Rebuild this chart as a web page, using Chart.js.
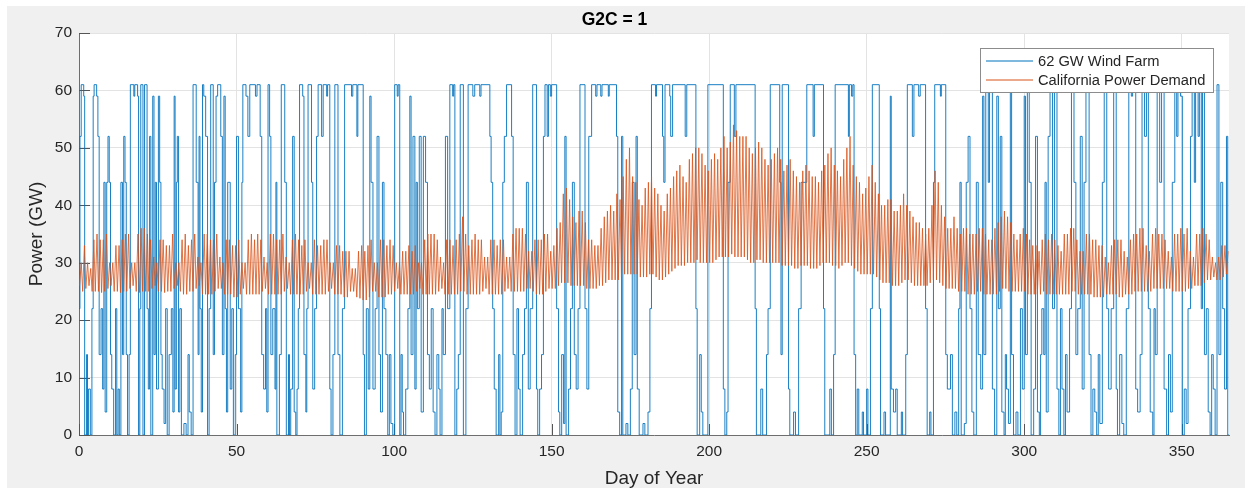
<!DOCTYPE html>
<html>
<head>
<meta charset="utf-8">
<title>G2C = 1</title>
<script src="https://cdn.jsdelivr.net/npm/chart.js@4.4.1/dist/chart.umd.min.js"></script>
<style>
  html, body { margin: 0; padding: 0; background: #fff; }
  #wrap { width: 1252px; height: 488px; }
</style>
</head>
<body>
<div id="wrap"><canvas id="powerChart" width="1252" height="488"></canvas></div>
<script>
// ---- data ----
const chartTitle = 'G2C = 1';
const seriesNames = ['62 GW Wind Farm', 'California Power Demand'];
const xTitle = 'Day of Year';
const yTitle = 'Power (GW)';
const xTicks = [0, 50, 100, 150, 200, 250, 300, 350];
const yTicks = [0, 10, 20, 30, 40, 50, 60, 70];

// wind farm output: [day the level starts, GW]
const windSteps = [
  [0,22],[0.3,52],[0.7,61],[1.5,59],[1.8,0],[2.4,14],[2.7,0],[3.0,8],[3.6,0],[4.1,22],
  [4.5,59],[4.8,61],[5.6,59],[6.0,52],[6.4,14],[7.0,22],[7.5,8],[7.9,44],[8.3,4],[8.8,44],
  [9.2,52],[9.6,44],[10.0,14],[10.4,8],[11.0,0],[11.6,22],[12.0,0],[12.4,8],[12.8,0],[13.3,44],
  [13.8,14],[14.2,52],[14.6,44],[15.0,14],[15.4,0],[15.9,14],[16.3,61],[17.4,59],[17.7,61],[18.6,59],
  [18.9,0],[19.3,22],[19.6,61],[20.3,0],[20.8,61],[21.6,22],[22.0,8],[22.4,52],[22.8,0],[23.4,59],
  [23.8,14],[24.2,44],[24.6,8],[25.2,59],[25.6,44],[26.0,14],[26.4,8],[27.0,2],[27.5,22],[28.0,0],
  [28.6,14],[29.3,22],[29.8,4],[30.2,59],[30.5,8],[30.9,44],[31.2,52],[31.6,4],[32.0,22],[32.5,0],
  [33.3,2],[34.0,0],[34.6,14],[35.0,4],[35.6,0],[36.2,61],[37.2,44],[37.8,14],[38.1,52],[38.4,22],
  [38.8,4],[39.2,61],[39.6,59],[40.2,52],[40.8,0],[41.3,22],[41.8,61],[42.6,14],[43.0,44],[43.5,59],
  [44.0,61],[45.0,52],[45.5,14],[46.0,59],[46.4,22],[46.8,4],[47.2,44],[48.0,8],[48.5,22],[49.0,0],
  [49.6,14],[50.0,52],[50.6,22],[51.3,4],[51.7,44],[52.0,61],[53.0,59],[53.6,52],[54.2,61],[56.0,59],
  [56.5,61],[57.5,52],[58.0,14],[58.6,8],[59.2,22],[59.6,4],[60.0,61],[60.5,52],[60.9,14],[61.5,22],
  [62.2,8],[62.5,44],[62.8,0],[63.6,14],[64.2,61],[65.3,44],[65.8,0],[66.5,14],[66.8,0],[67.2,8],
  [67.8,52],[68.3,4],[68.8,0],[69.2,8],[69.6,22],[70.0,61],[71.0,59],[71.4,14],[72.0,4],[72.3,22],
  [72.7,61],[73.8,44],[74.2,8],[74.8,22],[75.4,52],[75.9,61],[77.0,52],[77.5,61],[78.6,59],[78.9,61],
  [79.6,8],[80.0,0],[80.6,14],[81.2,61],[82.2,14],[82.8,0],[83.6,22],[84.3,61],[86.5,59],[86.9,61],
  [88.2,52],[88.5,61],[90.2,14],[90.6,0],[91.2,22],[91.8,8],[92.3,59],[92.7,44],[93.3,8],[94.0,22],
  [94.6,52],[95.2,14],[95.7,4],[96.3,44],[96.8,22],[97.4,14],[98.0,0],[98.5,14],[99.0,2],[99.6,0],
  [100.2,61],[101.0,59],[101.3,61],[101.8,0],[102.2,14],[102.6,4],[103.0,0],[103.7,8],[104.4,22],[105.0,59],
  [105.4,14],[106.0,52],[106.6,8],[107.0,44],[107.4,22],[108.0,52],[108.6,4],[109.3,52],[110.0,44],[110.6,14],
  [111.2,8],[111.8,22],[112.4,4],[113.0,0],[113.6,14],[114.2,8],[114.6,0],[115.2,22],[115.6,14],[116.3,52],
  [117.0,22],[117.7,61],[118.6,59],[118.9,61],[119.3,0],[119.9,8],[120.4,14],[121.0,61],[122.0,0],[122.8,22],
  [123.5,61],[125.0,59],[125.6,61],[127.2,59],[127.6,61],[130.4,52],[130.8,44],[131.3,22],[131.8,8],[132.4,0],
  [133.2,14],[133.6,0],[134.0,4],[134.5,44],[135.0,52],[135.7,61],[137.3,52],[137.8,14],[138.4,0],[139.0,22],
  [139.5,8],[140.0,0],[140.8,14],[141.4,22],[142.0,44],[142.6,8],[143.2,22],[144.0,61],[145.2,8],[145.6,0],
  [146.2,8],[146.8,14],[147.4,52],[147.9,61],[148.6,52],[149.0,61],[149.6,59],[150.0,61],[151.6,22],[152.2,4],
  [152.6,0],[153.2,14],[153.8,2],[154.2,52],[154.6,0],[155.4,8],[156.0,22],[156.6,44],[157.2,14],[157.8,8],
  [158.4,22],[159.0,61],[160.6,22],[161.2,8],[161.8,52],[162.7,61],[164.0,59],[164.4,61],[165.6,59],[166.0,61],
  [168.0,59],[168.3,61],[170.6,52],[171.0,4],[171.6,0],[172.2,52],[172.6,0],[173.6,2],[174.2,0],[175.0,8],
  [175.6,44],[176.2,14],[176.8,52],[177.2,8],[177.8,0],[179.0,2],[179.6,0],[180.6,4],[181.2,22],[181.7,61],
  [183.0,59],[183.3,61],[185.2,52],[185.6,44],[186.0,61],[187.5,59],[187.8,52],[188.4,61],[192.4,52],[192.9,61],
  [195.8,22],[196.2,0],[197.0,14],[197.5,4],[198.0,0],[199.6,61],[204.5,8],[205.0,0],[205.6,4],[206.0,44],
  [206.7,61],[208.0,52],[208.5,61],[214.6,22],[215.0,0],[216.4,8],[217.0,0],[218.2,14],[218.7,22],[219.4,61],
  [222.4,44],[222.8,14],[223.2,61],[225.2,8],[225.6,0],[226.8,4],[227.4,0],[228.4,22],[229.2,44],[231.0,61],
  [233.0,52],[233.4,61],[236.3,22],[236.7,0],[238.3,8],[238.8,0],[239.5,14],[240.0,61],[244.2,52],[244.5,61],
  [245.2,59],[245.6,61],[246.0,14],[246.5,0],[247.0,8],[247.5,0],[248.6,4],[249.0,0],[250.0,8],[250.4,0],
  [251.2,22],[251.8,61],[254.0,22],[254.4,0],[255.5,4],[256.0,0],[257.5,59],[257.8,8],[258.5,4],[259.2,8],
  [259.7,0],[261.0,4],[261.4,0],[262.4,14],[262.9,61],[264.5,52],[265.0,61],[266.5,59],[267.0,61],[268.7,22],
  [269.2,0],[270.0,4],[270.4,0],[271.2,44],[271.6,61],[273.4,59],[273.7,61],[275.1,14],[275.6,8],[276.6,14],
  [277.2,0],[278.0,4],[278.6,0],[279.2,22],[279.6,44],[280.0,0],[281.0,2],[281.6,44],[282.2,52],[282.8,22],
  [283.4,4],[284.0,0],[284.8,44],[285.4,14],[286.2,8],[286.8,59],[287.2,14],[287.8,61],[288.6,44],[289.0,61],
  [289.9,8],[290.6,0],[291.3,59],[291.8,22],[292.4,52],[292.9,4],[293.6,0],[294.0,14],[294.4,8],[295.0,2],
  [295.6,61],[296.0,14],[296.6,0],[297.4,4],[298.0,0],[298.8,22],[299.4,8],[300.0,59],[300.4,14],[301.0,61],
  [301.6,44],[302.2,0],[303.0,8],[303.6,52],[304.2,4],[304.8,0],[305.2,14],[305.6,22],[306.2,14],[306.6,44],
  [307.0,4],[307.6,52],[308.2,61],[309.0,22],[309.6,61],[310.4,8],[311.0,0],[311.5,22],[312.0,8],[312.6,0],
  [313.1,14],[313.6,4],[314.4,22],[315.0,61],[315.8,44],[316.4,14],[317.0,22],[317.8,52],[318.4,8],[319.0,44],
  [319.6,61],[320.6,14],[321.2,0],[321.8,8],[322.4,4],[323.0,0],[323.5,14],[324.0,2],[324.8,44],[325.4,61],
  [326.2,22],[326.8,8],[327.6,22],[328.4,61],[329.2,8],[329.6,0],[330.3,14],[331.0,2],[331.6,0],[332.4,22],
  [333.2,61],[334.0,59],[334.4,61],[335.4,8],[336.0,4],[336.8,14],[337.4,61],[338.2,52],[338.8,61],[339.4,22],
  [340.0,4],[340.8,0],[341.2,22],[341.6,14],[342.2,61],[343.0,44],[343.6,61],[344.4,8],[345.2,0],[345.8,14],
  [346.4,4],[347.0,44],[347.8,61],[348.4,52],[348.8,61],[349.6,59],[350.2,0],[350.8,8],[351.4,2],[352.0,22],
  [352.8,52],[353.3,61],[354.0,44],[354.4,61],[355.2,52],[355.6,61],[356.2,22],[356.6,61],[357.2,14],[357.8,22],
  [358.4,4],[359.0,0],[359.5,14],[360.0,8],[360.6,0],[361.2,61],[361.8,14],[362.4,44],[363.0,22],[363.6,8],
  [364.2,52],[364.6,0],[365.0,0]
];

// demand: daily evening peak and early-morning low, GW, days 0..364
const demandPeak = [
  30,33,30,29,34,35,34,34,35,30, 30,33,33,34,35,35,30,30,35,36,
  36,35,34,31,30,34,34,33,33,35, 30,30,34,35,33,34,35,31,30,35,
  35,34,34,35,31,30,34,34,33,33, 34,30,30,34,35,34,35,34,31,30,
  35,35,34,34,35,31,30,34,35,34, 33,34,30,30,34,33,33,34,34,30,
  30,33,33,32,32,32,29,29,32,33, 32,33,34,30,30,34,34,33,34,33,
  30,30,32,32,33,32,33,30,30,34, 35,35,35,34,31,30,34,34,33,34,
  35,38,35,33,34,35,34,34,31,31, 34,34,33,34,34,31,31,35,36,36,
  36,35,32,32,34,34,34,35,35,32, 33,36,37,42,43,41,38,37,39,39,
  37,34,34,33,33,36,38,39,40,39, 42,41,45,48,50,45,44,41,40,43,
  44,45,43,42,40,39,42,43,45,46, 47,45,44,48,49,50,50,49,47,46,
  48,49,48,50,52,50,51,54,53,52, 52,52,50,49,50,51,50,48,47,48,
  49,50,48,46,47,48,46,45,44,46, 47,46,45,45,44,46,47,49,50,47,
  46,45,48,50,52,47,45,44,42,43, 45,47,44,42,40,40,41,41,39,39,
  40,42,40,39,38,37,37,36,35,36, 40,46,44,40,38,36,36,38,36,35,
  36,36,35,35,35,36,36,35,34,34, 36,37,38,39,38,37,35,34,35,36,
  35,34,33,33,32,34,35,34,35,34, 33,32,35,35,36,36,34,32,32,35,
  35,34,34,33,33,31,30,33,34,34, 34,32,31,34,35,35,36,36,33,32,
  35,36,35,35,34,32,31,35,35,36, 35,36,32,31,35,35,36,35,34,31,
  30,31,33,33,32
];
const demandLow = [
  26,25,25.5,26,25,25,25,24.8,25,25.5, 26,25,25,24.8,25,25,25.5,26,25,24.8,
  25,25,25,25.5,26,25,25,24.8,25,25, 25.5,26,25,24.5,24.5,25,25,25.5,26,24.5,
  24.5,24.5,24.5,25,25.5,25.5,24.5,24.5,24.5,24, 24,24.5,25.5,24.5,24.5,24.5,24.5,24.5,25,25.5,
  24.5,24.5,24.5,24.5,24.5,25,25.5,24.5,24.5,24.5, 24.5,24.5,25,25.5,24.5,24.5,24.5,24.5,24.5,25,
  25.5,24.5,24.5,24.5,24,24,25,25,24,23.8, 23.5,23.5,24,25,25,24,24,24,24.5,24.5,
  25,25.5,24.5,24.5,24.5,24.5,24.5,25,25.5,24.5, 24.5,24.5,24.5,24.5,25,25.5,24.5,24.5,24.5,24.5,
  24.5,25,25,24.5,24.5,24.5,24.5,24.5,25,25.5, 24.5,24.5,24.5,24.5,24.5,25,25.5,25,25,25,
  25,25,25.5,25.5,25,24.5,24.5,24.5,25,25.5, 25.5,25.5,26,26.5,26.5,26.5,26,26,26,26,
  26,25.5,25.5,25.5,25.5,26,26,26.5,27,27, 27,27,27.5,28,28,28,28,28,27.5,27.5,
  27.5,28,28,27.5,27,27,27.5,28,28.5,29, 29.5,29.5,29.5,30,30,30,30.5,30,30,30,
  30,30,30.5,31,31,31,31,31.5,31,31, 31,31,30.5,30,30,30.5,30.5,30,30,30,
  30,30,30,29.5,29.5,29.5,29.5,29,29,29.5, 29.5,29.5,29,29,29,29.5,30,30,30,29.5,
  29.5,29,29.5,30,30,29.5,29,28.5,28,28, 28,28,28,27.5,27,26.5,26.5,26.5,26,26,
  26,26.5,27,27,26.5,26,26,26,26,26, 26.5,27,27,26.5,26,25.5,25.5,25.5,25.5,25,
  25,25,24.5,24.5,24.5,25,25,24.5,24.5,24.5, 24.5,24.5,25,25.5,25.5,25,25,25,25,25,
  25,24.5,24.5,24.5,24.5,24.5,25,24.5,24.5,24.5, 24.5,24.5,24.5,24.5,24.5,25,25,24.5,24.5,24.5,
  24.5,24.5,24,24,24,24,24.5,24.5,24.5,24.5, 24,24,24.5,24.5,24.5,25,25,25,25,25,
  25,25.5,25.5,25.5,25.5,25.5,25.5,25,25,25, 25,25,25.5,25.5,26,26,26,26.5,27,27,
  27.5,27,27,27.5,28
];

// ---- build datasets ----
const BLUE = '#0072BD';
const ORANGE = '#D95319';
const TEXT = '#262626';
const FONT = '"Liberation Sans", Arial, Helvetica, sans-serif';

const windPoints = windSteps.map(s => ({ x: s[0], y: s[1] }));
const demandPoints = [];
demandLow.forEach((low, d) => {
    demandPoints.push({ x: d + 0.17, y: low });
    demandPoints.push({ x: d + 0.72, y: demandPeak[d] });
});

// grey figure frame, inward ticks and the boxed legend, MATLAB style
const matlabLook = {
    id: 'matlabLook',
    beforeDraw(chart) {
        const { ctx, chartArea: a } = chart;
        ctx.save();
        ctx.fillStyle = '#ffffff';
        ctx.fillRect(0, 0, chart.width, chart.height);
        ctx.fillStyle = '#f0f0f0';
        ctx.fillRect(7, 6, 1238, 482);
        ctx.fillStyle = '#ffffff';
        ctx.fillRect(a.left, a.top, a.right - a.left, a.bottom - a.top);
        ctx.restore();
    },
    beforeDatasetsDraw(chart) {
        const { ctx, chartArea: a, scales } = chart;
        ctx.save();
        ctx.strokeStyle = '#555555';
        ctx.lineWidth = 1;
        ctx.beginPath();
        scales.y.ticks.forEach(t => {
            const py = Math.round(scales.y.getPixelForValue(t.value)) + 0.5;
            ctx.moveTo(a.left, py);
            ctx.lineTo(a.left + 11, py);
        });
        scales.x.ticks.forEach(t => {
            const px = Math.round(scales.x.getPixelForValue(t.value)) + 0.5;
            ctx.moveTo(px, a.bottom);
            ctx.lineTo(px, a.bottom - 11);
        });
        ctx.stroke();
        ctx.restore();
    },
    afterDraw(chart) {
        const ctx = chart.ctx;
        ctx.save();
        ctx.fillStyle = '#ffffff';
        ctx.fillRect(980, 48, 233, 44);
        ctx.strokeStyle = '#8c8c8c';
        ctx.lineWidth = 1;
        ctx.strokeRect(980.5, 48.5, 233, 44);
        ctx.font = '14.7px ' + FONT;
        ctx.textBaseline = 'middle';
        ctx.textAlign = 'left';
        [[BLUE, 61], [ORANGE, 80]].forEach(([col, yy], i) => {
            ctx.strokeStyle = col;
            ctx.beginPath();
            ctx.moveTo(986, yy);
            ctx.lineTo(1033, yy);
            ctx.stroke();
            ctx.fillStyle = TEXT;
            ctx.fillText(seriesNames[i], 1038, yy + 1);
        });
        ctx.restore();
    }
};

new Chart(document.getElementById('powerChart'), {
    type: 'line',
    data: {
        datasets: [
            {
                label: seriesNames[0],
                data: windPoints,
                borderColor: BLUE,
                borderWidth: 0.9,
                stepped: true,
                pointRadius: 0,
                fill: false,
                order: 1
            },
            {
                label: seriesNames[1],
                data: demandPoints,
                borderColor: ORANGE,
                borderWidth: 0.8,
                tension: 0,
                pointRadius: 0,
                fill: false,
                order: 0
            }
        ]
    },
    options: {
        responsive: false,
        animation: false,
        events: [],
        layout: { padding: { left: 0, right: 23, top: 0, bottom: 0 } },
        plugins: {
            legend: { display: false },
            tooltip: { enabled: false },
            title: {
                display: true,
                text: chartTitle,
                color: '#000000',
                font: { family: FONT, size: 17.5, weight: 'bold', lineHeight: 1.2 },
                padding: { top: 9.5, bottom: 2.5 }
            }
        },
        scales: {
            x: {
                type: 'linear',
                min: 0,
                max: 365,
                afterFit: s => { s.height = 53; },
                afterBuildTicks: s => { s.ticks = xTicks.map(v => ({ value: v })); },
                ticks: { color: TEXT, font: { family: FONT, size: 15.5 }, padding: 7, maxRotation: 0 },
                grid: { color: '#e3e3e3', drawTicks: false },
                border: { display: true, color: '#6e6e6e', width: 1 },
                title: {
                    display: true,
                    text: xTitle,
                    color: TEXT,
                    font: { family: FONT, size: 19, lineHeight: 1 },
                    padding: { top: 0.5, bottom: 0 }
                }
            },
            y: {
                min: 0,
                max: 70,
                afterFit: s => { s.width = 79; },
                afterBuildTicks: s => { s.ticks = yTicks.map(v => ({ value: v })); },
                ticks: { color: TEXT, font: { family: FONT, size: 15.5 }, padding: 7 },
                grid: { color: '#e3e3e3', drawTicks: false },
                border: { display: true, color: '#6e6e6e', width: 1 },
                title: {
                    display: true,
                    text: yTitle,
                    color: TEXT,
                    font: { family: FONT, size: 19, lineHeight: 1.2 },
                    padding: { top: 25.6, bottom: 0 }
                }
            }
        }
    },
    plugins: [matlabLook]
});
</script>
</body>
</html>
